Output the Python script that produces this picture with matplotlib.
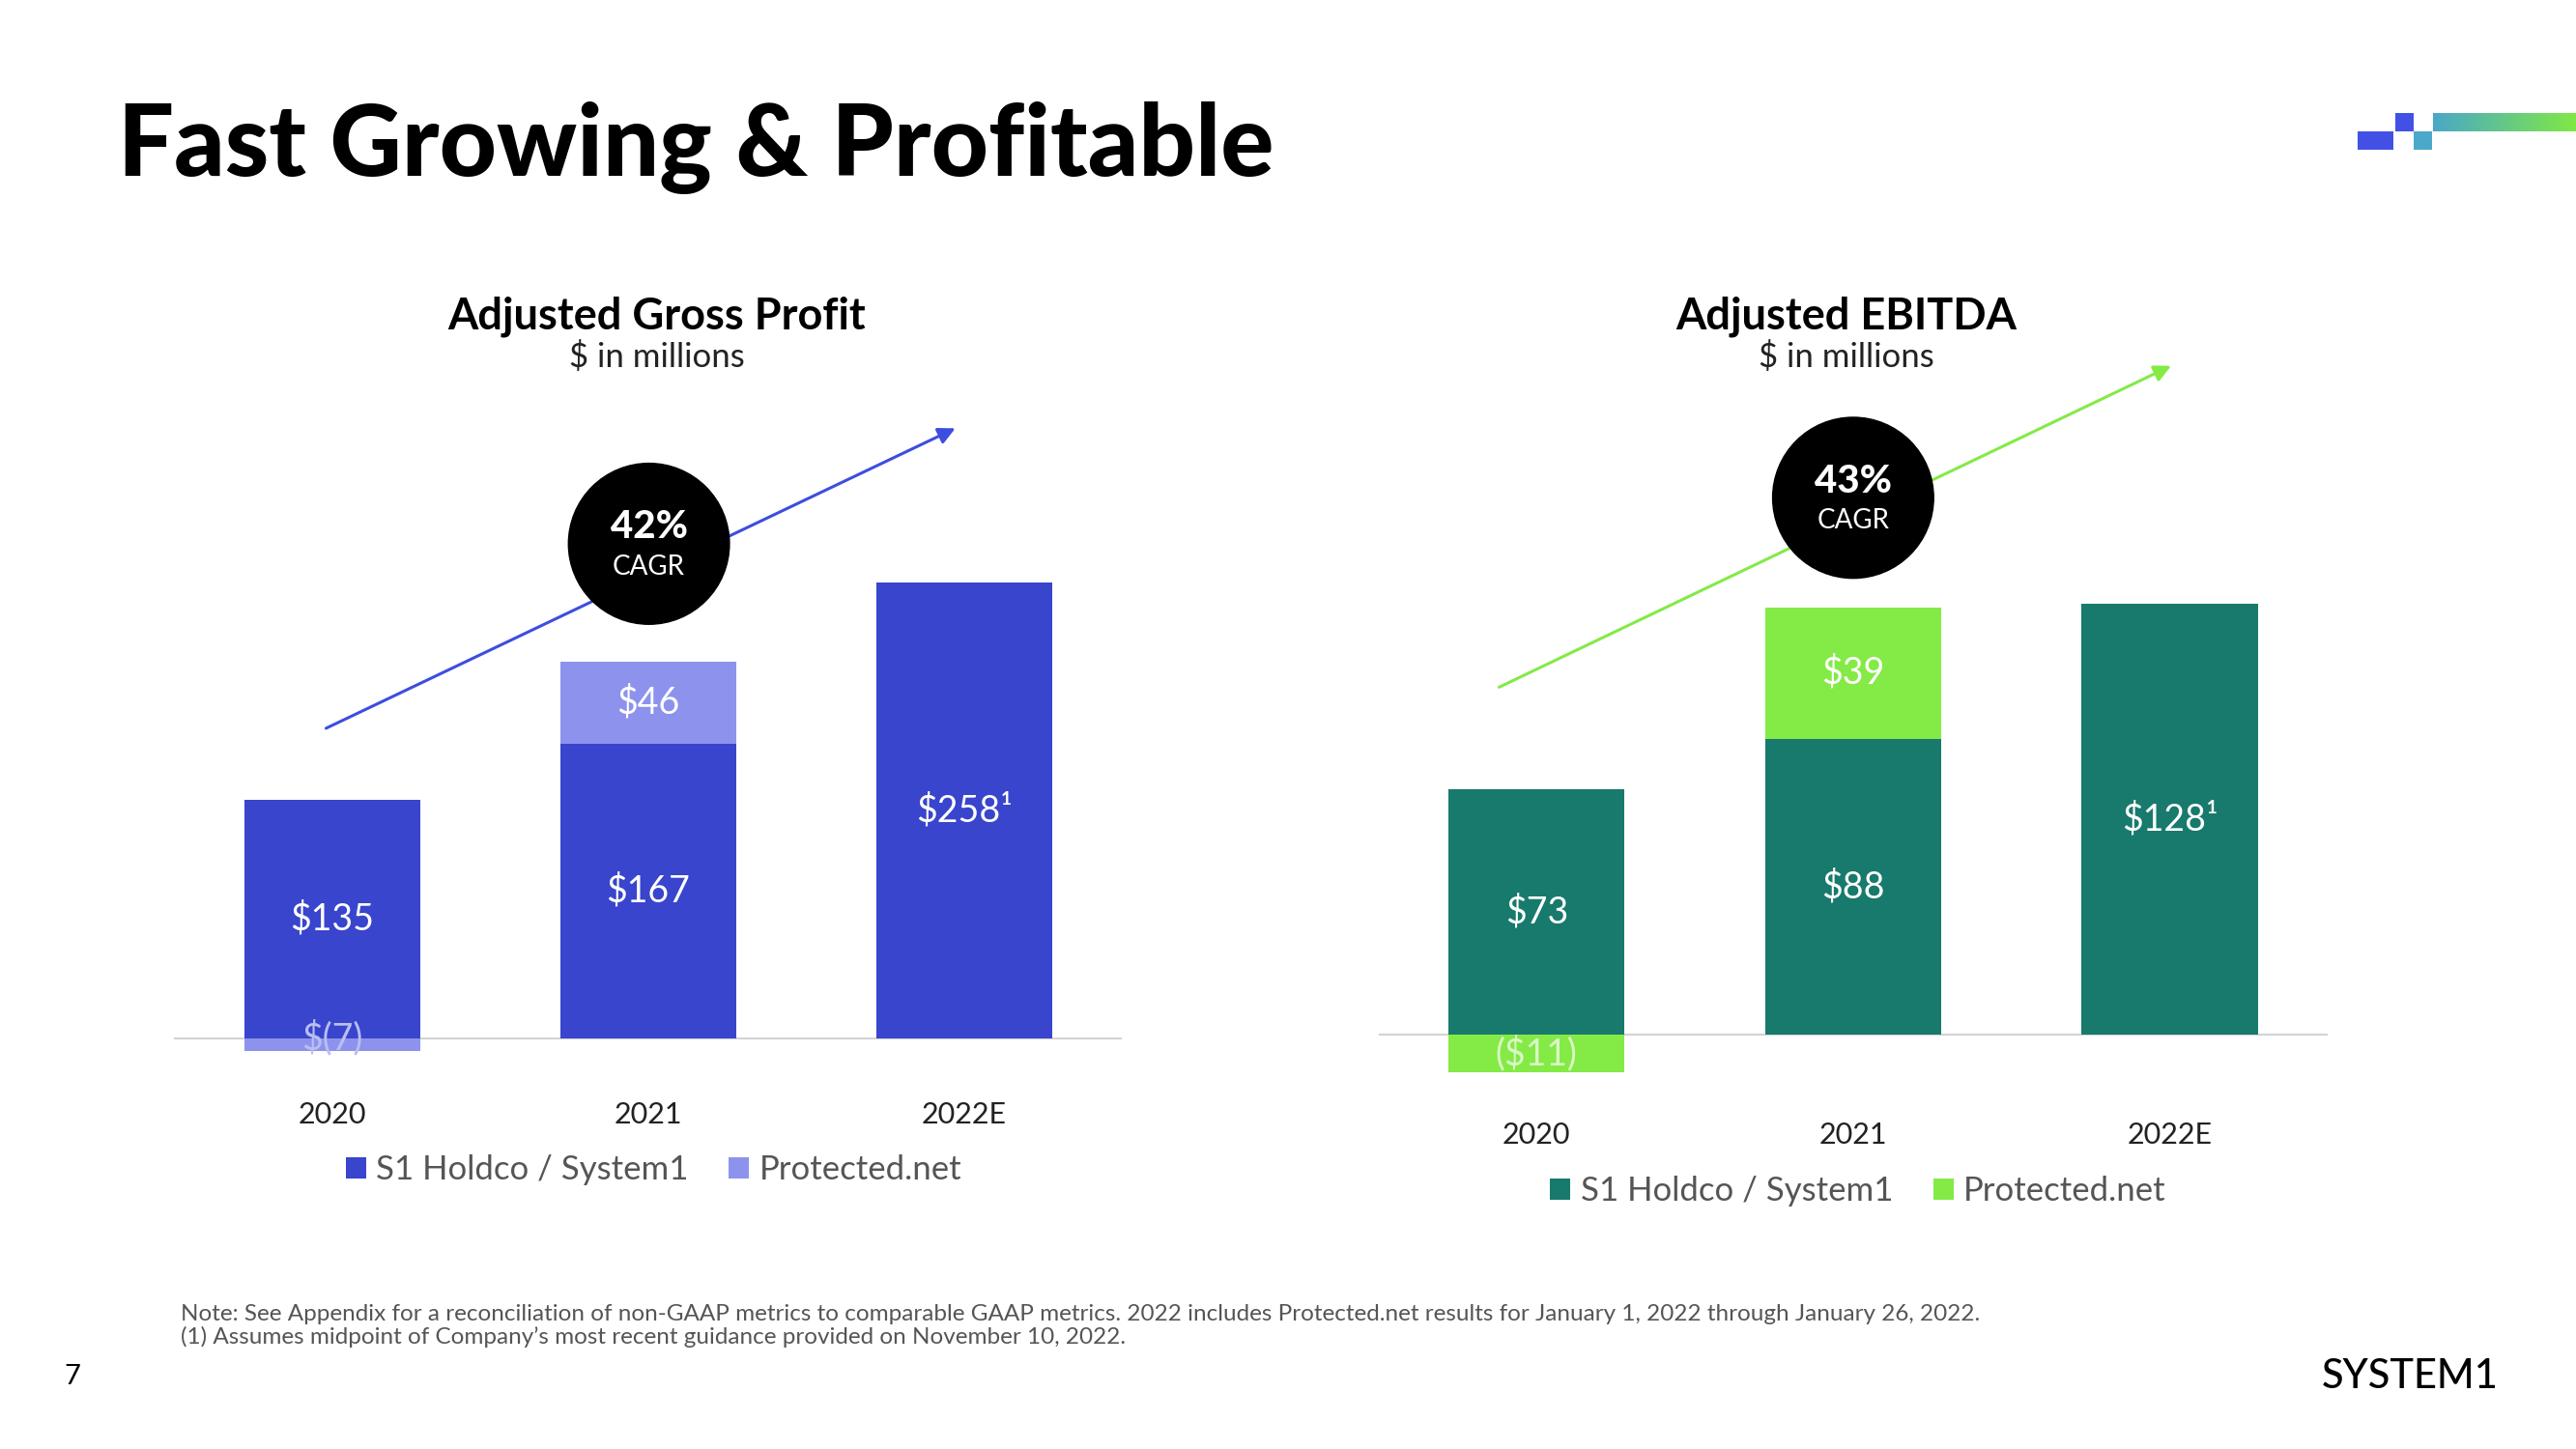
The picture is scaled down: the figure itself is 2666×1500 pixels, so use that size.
import matplotlib
matplotlib.use("Agg")
import matplotlib.pyplot as plt
import numpy as np
from matplotlib.patches import Ellipse, Rectangle, FancyArrowPatch

plt.rcParams['font.family'] = ['Lato', 'DejaVu Sans']

# data
years = ['2020', '2021', '2022E']
series_names = ['S1 Holdco / System1', 'Protected.net']

gp_s1 = [135, 167, 258]
gp_prot = [-7, 46, 0]
gp_labels_s1 = ['$135', '$167', '$258¹']
gp_labels_prot = ['$(7)', '$46', '']

eb_s1 = [73, 88, 128]
eb_prot = [-11, 39, 0]
eb_labels_s1 = ['$73', '$88', '$128¹']
eb_labels_prot = ['($11)', '$39', '']

W, H = 1568.0, 882.0  # layout reference grid


def fx(x):
    return x / W


def fy(y):
    return 1 - y / H


fig = plt.figure(figsize=(26.66, 15), dpi=100)
fig.patch.set_facecolor('white')


def draw_chart(rect, s1, prot, lab_s1, lab_prot, ylim, c_dark, c_light,
               neg_color, neg_mid, tick_pad, legend_xy):
    ax = fig.add_axes(rect)
    x = np.arange(len(s1))
    ax.bar(x, s1, width=0.556, color=c_dark, label=series_names[0], zorder=2)
    bottoms = [s if p > 0 else 0 for s, p in zip(s1, prot)]
    ax.bar(x, prot, bottom=bottoms, width=0.556, color=c_light,
           label=series_names[1], zorder=2)
    ax.axhline(0, color='#d4d4d4', lw=1.6, zorder=1)
    for i in range(len(s1)):
        ax.text(x[i], s1[i] / 2, lab_s1[i], ha='center', va='center',
                color='white', fontsize=27, zorder=3)
        if lab_prot[i]:
            if prot[i] > 0:
                ax.text(x[i], bottoms[i] + prot[i] / 2, lab_prot[i],
                        ha='center', va='center', color='white', fontsize=27,
                        zorder=3)
            else:
                ax.text(x[i], prot[i] * neg_mid, lab_prot[i], ha='center',
                        va='center', color=neg_color, fontsize=27, zorder=3)
    ax.set_xlim(-0.5, 2.5)
    ax.set_ylim(*ylim)
    ax.set_xticks(x)
    ax.set_xticklabels(years, fontsize=22, color='#222222')
    ax.tick_params(axis='x', length=0, pad=tick_pad)
    ax.set_yticks([])
    for s in ax.spines.values():
        s.set_visible(False)
    ax.patch.set_alpha(0)
    fig.legend(*ax.get_legend_handles_labels(), loc='center',
               bbox_to_anchor=legend_xy, bbox_transform=fig.transFigure,
               ncol=2, frameon=False, fontsize=25, handlelength=0.6,
               handleheight=0.6, handletextpad=0.3, columnspacing=1.2,
               labelcolor='#555555')
    return ax


draw_chart([fx(106), fy(658.9), fx(683) - fx(106), (658.9 - 250.4) / H],
           gp_s1, gp_prot, gp_labels_s1, gp_labels_prot, (-25, 355),
           '#3945cc', '#8d93ec', '#b9bef3', 0.0, 14, (fx(398), fy(712)))
draw_chart([fx(839), fy(660.75), fx(1417) - fx(839), (660.75 - 240.5) / H],
           eb_s1, eb_prot, eb_labels_s1, eb_labels_prot, (-15, 190),
           '#177a6c', '#84ea46', '#d9f7c4', 0.5, 27, (fx(1131), fy(725)))

# growth arrows and CAGR bubbles
for (x0, y0, x1, y1, col) in [(197, 444, 583, 260, '#3d4de0'),
                              (911, 419, 1323, 222, '#84ea46')]:
    fig.add_artist(FancyArrowPatch((fx(x0), fy(y0)), (fx(x1), fy(y1)),
                                   transform=fig.transFigure,
                                   arrowstyle='-|>', mutation_scale=26,
                                   color=col, lw=2.2, zorder=1))
for (cx, cy, pct) in [(395, 331, '42%'), (1128, 303, '43%')]:
    fig.add_artist(Ellipse((fx(cx), fy(cy)), 98 / W, 98 / H,
                           transform=fig.transFigure, color='black', zorder=2))
    fig.text(fx(cx), fy(cy - 10), pct, ha='center', va='center', color='white',
             fontsize=29, fontweight='black', zorder=3)
    fig.text(fx(cx), fy(cy + 14), 'CAGR', ha='center', va='center',
             color='white', fontsize=20, zorder=3)

# titles
fig.text(fx(72), fy(90), 'Fast Growing & Profitable', ha='left', va='center',
         fontsize=74, fontweight='black', color='black')
for (cx, t) in [(400, 'Adjusted Gross Profit'), (1124, 'Adjusted EBITDA')]:
    fig.text(fx(cx), fy(193), t, ha='center', va='center', fontsize=32.5,
             fontweight='bold', color='black')
    fig.text(fx(cx), fy(217), '$ in millions', ha='center', va='center',
             fontsize=25, color='#222222')

# footnotes
fig.text(fx(110), fy(800), 'Note: See Appendix for a reconciliation of non-GAAP metrics to '
         'comparable GAAP metrics. 2022 includes Protected.net results for January 1, 2022 '
         'through January 26, 2022.', ha='left', va='center', fontsize=17.5,
         color='#555555')
fig.text(fx(110), fy(814), '(1) Assumes midpoint of Company\u2019s most recent guidance '
         'provided on November 10, 2022.', ha='left', va='center', fontsize=17.5,
         color='#555555')
fig.text(fx(44), fy(838), '7', ha='center', va='center', fontsize=21,
         color='black')
fig.text(fx(1521), fy(838), 'SYSTEM1', ha='right', va='center', fontsize=30,
         fontweight='medium', color='black')

# top-right logo squares + gradient bar (full-size pixel grid)
def px(x, y, w, h):
    return (x / 2666, 1 - (y + h) / 1500), w / 2666, h / 1500


for (x, y, w, h, c) in [(2440, 136, 37, 19, '#4350e6'),
                        (2479, 117, 19, 19, '#4350e6'),
                        (2498, 136, 19, 19, '#4aa8c8')]:
    xy, ww, hh = px(x, y, w, h)
    fig.add_artist(Rectangle(xy, ww, hh, transform=fig.transFigure, color=c,
                             lw=0))
xy, ww, hh = px(2518, 117, 148, 19)
gax = fig.add_axes([xy[0], xy[1], ww, hh])
gax.imshow(np.linspace(0, 1, 256)[None, :], aspect='auto',
           cmap=matplotlib.colors.LinearSegmentedColormap.from_list(
               'g', ['#4aa8c8', '#80e845']))
gax.axis('off')

fig.savefig('out.png', dpi=100, facecolor='white')
